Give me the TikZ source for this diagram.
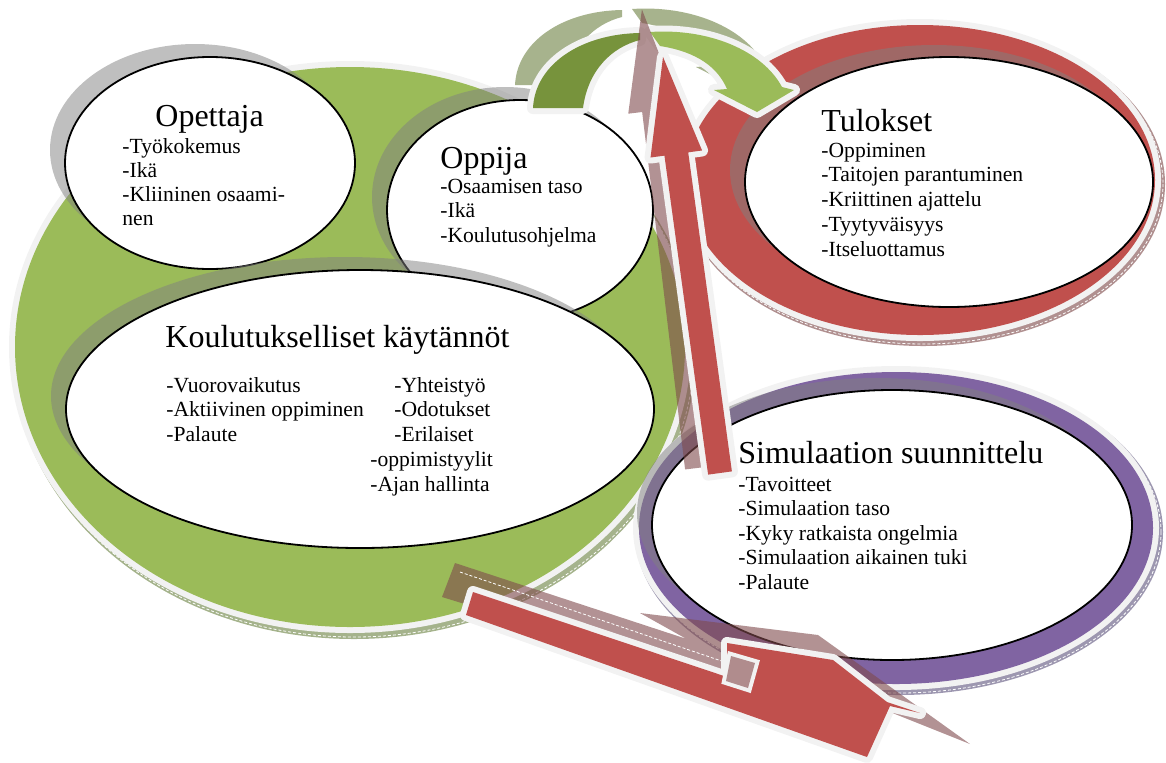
\documentclass[tikz,border=0pt]{standalone}
\usepackage{fontspec}
\setmainfont{Liberation Serif}
\usepackage{xcolor}
\definecolor{Leaf}{HTML}{9BBB59}
\definecolor{Moss}{HTML}{77933C}
\definecolor{Brick}{HTML}{C0504D}
\definecolor{Plum}{HTML}{8064A2}
\definecolor{Mist}{HTML}{F2F2F2}
\definecolor{Smoke}{HTML}{808080}
\definecolor{Clay}{HTML}{7F4A4C}
\definecolor{Fern}{HTML}{5F7530}
\definecolor{Rose}{HTML}{B08C8D}
\definecolor{LeafShade}{HTML}{A5B38C}
\definecolor{BrickShade}{HTML}{B09090}
\definecolor{PlumShade}{HTML}{9D97B0}
\colorlet{leaf}{Leaf}
\colorlet{moss}{Moss}
\colorlet{brick}{Brick}
\colorlet{plum}{Plum}
\colorlet{mist}{Mist}
\colorlet{smoke}{Smoke}
\colorlet{clay}{Clay}
\colorlet{fern}{Fern}
\colorlet{rose}{Rose}
\colorlet{leafshade}{LeafShade}
\colorlet{brickshade}{BrickShade}
\colorlet{plumshade}{PlumShade}
\usepackage{tikz}
\usetikzlibrary{shapes.geometric}

\begin{document}
\begin{tikzpicture}[x=0.5pt, y=-0.5pt,
  bubble/.style={shape=ellipse, draw=black, line width=0.9pt, fill=white, inner sep=0pt},
  head/.style={anchor=base west, inner sep=0pt, font=\fontsize{16}{19}\selectfont},
  entry/.style={anchor=base west, inner sep=0pt, font=\fontsize{10.8}{12}\selectfont},
  ghost/.style={fill=smoke, fill opacity=0.5},
  halo/.style={fill=#1, preaction={draw=mist, line width=6pt}},
  slab/.style={fill=#1, preaction={draw=mist, line width=6pt, line join=round}},
  glint/.style={draw=white, line width=0.4pt, dash pattern=on 1.5pt off 1pt}]
\useasboundingbox (0,0) rectangle (1166,762);

\fill[leafshade] (354,352) ellipse [x radius=342, y radius=287];
\draw[glint] (354,352) ellipse [x radius=340, y radius=285];
\path[halo=leaf] (350,347) ellipse [x radius=335, y radius=280];

\fill[ghost] (195,150) ellipse [x radius=145, y radius=106];
\fill[ghost] (505,197) ellipse [x radius=133, y radius=110];
\node[bubble, minimum width=145pt, minimum height=106pt] (opettaja) at (210,163) {};
\node[bubble, minimum width=133pt, minimum height=110pt] (oppija) at (520,210) {};
\fill[ghost] (345,396) ellipse [x radius=294, y radius=139];
\node[bubble, minimum width=294pt, minimum height=139pt] (koulutus) at (360,409) {};

\node[head] (opeT) at (155,126) {Opettaja};
\foreach \txt [count=\k from 0] in {-Työkokemus,-Ikä,-Kliininen osaami-,nen}
  \node[entry] (ope\k) at (122,153+24*\k) {\txt};
\node[head] (oppT) at (440,168) {Oppija};
\foreach \txt [count=\k from 0] in {-Osaamisen taso,-Ikä,-Koulutusohjelma}
  \node[entry] (opp\k) at (440,193+24.5*\k) {\txt};
\node[head] (kouT) at (165,347) {Koulutukselliset käytännöt};
\foreach \txt [count=\k from 0] in {-Vuorovaikutus,-Aktiivinen oppiminen,-Palaute}
  \node[entry] (kouL\k) at (166,392+24.8*\k) {\txt};
\foreach \txt [count=\k from 0] in {-Yhteistyö,-Odotukset,-Erilaiset}
  \node[entry] (kouR\k) at (394,392+24.8*\k) {\txt};
\foreach \txt [count=\k from 3] in {-oppimistyylit,-Ajan hallinta}
  \node[entry] (kouR\k) at (370,392+24.8*\k) {\txt};

\fill[brickshade] (923,184) ellipse [x radius=242, y radius=162];
\draw[glint] (923,184) ellipse [x radius=240, y radius=160];
\path[halo=brick] (920,180) ellipse [x radius=235, y radius=155];
\fill[ghost] (934,170) ellipse [x radius=204, y radius=125];
\node[bubble, minimum width=204pt, minimum height=125pt] (tulokset) at (949,182) {};
\node[head] (tulT) at (821,131) {Tulokset};
\foreach \txt [count=\k from 0] in {-Oppiminen,-Taitojen parantuminen,-Kriittinen ajattelu,-Tyytyväisyys,-Itseluottamus}
  \node[entry] (tul\k) at (821,157+24.8*\k) {\txt};

\fill[plumshade] (899,532) ellipse [x radius=264, y radius=163];
\draw[glint] (899,532) ellipse [x radius=262, y radius=161];
\path[halo=plum] (896,528) ellipse [x radius=257, y radius=156];
\fill[ghost] (877,513) ellipse [x radius=240, y radius=135];
\node[bubble, minimum width=240pt, minimum height=135pt] (simulaatio) at (892,525) {};
\node[head] (simT) at (738,463) {Simulaation suunnittelu};
\foreach \txt [count=\k from 0] in {-Tavoitteet,-Simulaation taso,-Kyky ratkaista ongelmia,-Simulaation aikainen tuki,-Palaute}
  \node[entry] (sim\k) at (738,491+24.5*\k) {\txt};

\fill[fern, fill opacity=0.55, shift={(-18,-23)}]
  (533,108) .. controls (535,65) and (580,34) .. (640,33) -- (640,40) .. controls (612,47) and (588,70) .. (583,108) -- cycle
  (650,32) .. controls (708,28) and (762,50) .. (782,87) -- (794,90) -- (757,112) -- (714,90) -- (727,89) .. controls (718,68) and (698,52) .. (660,46) -- cycle;
\path[slab=moss] (533,108) .. controls (535,65) and (580,34) .. (640,33) -- (640,40) .. controls (612,47) and (588,70) .. (583,108) -- cycle;
\path[slab=leaf] (650,32) .. controls (708,28) and (762,50) .. (782,87) -- (794,90) -- (757,112) -- (714,90) -- (727,89) .. controls (718,68) and (698,52) .. (660,46) -- cycle;

\fill[clay, fill opacity=0.6, shift={(697,468)}, rotate=6.85]
  (12,0) -- (12,-360) -- (26,-360) -- (0,-462) -- (-26,-360) -- (-12,-360) -- (-12,0) -- cycle;
\path[slab=brick, shift={(720,473)}, rotate=7.8]
  (12,0) -- (12,-322) -- (26,-322) -- (0,-420) -- (-26,-322) -- (-12,-322) -- (-12,0) -- cycle;

\fill[clay, fill opacity=0.6]
  (640,613) -- (818,635) -- (970,744) -- (890,712) -- (760,680) -- cycle
  (455,563) -- (757,662) -- (748,691) -- (442,597) -- cycle;
\draw[glint] (460,572) -- (748,670);
\path[slab=brick] (473,592) -- (727,677) -- (727,643) -- (833,660) -- (887,702) -- (920,713) -- (890,706) -- (867,757) -- (466,615) -- cycle;
\path[fill=rose, preaction={draw=mist, line width=4pt}] (731,656) -- (755,663) -- (748,688) -- (726,681) -- cycle;
\end{tikzpicture}
\end{document}
